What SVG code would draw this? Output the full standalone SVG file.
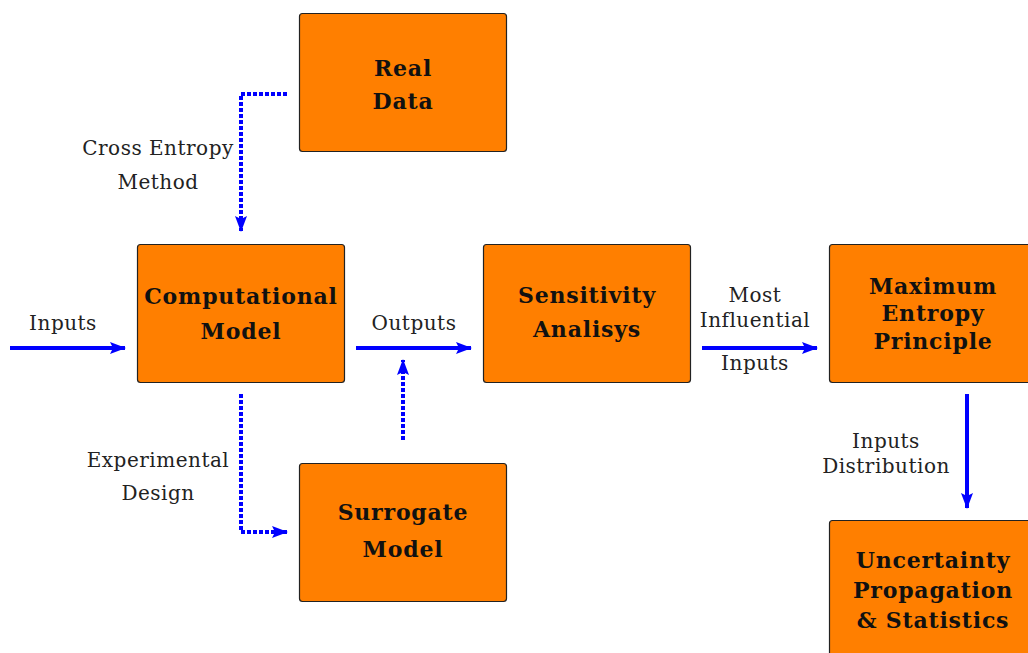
<svg xmlns="http://www.w3.org/2000/svg" width="1028" height="653" viewBox="0 0 1028 653">
<defs>
<marker id="ah" viewBox="0 0 16 12" refX="15" refY="6" markerWidth="16" markerHeight="12" markerUnits="userSpaceOnUse" orient="auto">
<path d="M0,0 L16,6 L0,12 L3,6 Z" fill="#0000ff"/>
</marker>
</defs>
<style>
.box{fill:#ff7f00;stroke:#222;stroke-width:1.2}
.bt{font-family:"DejaVu Serif",serif;font-weight:bold;font-size:22px;letter-spacing:0.8px;fill:#111;text-anchor:middle}
.lb{font-family:"DejaVu Serif",serif;font-size:20px;letter-spacing:0.5px;fill:#222;text-anchor:middle}
.ar{stroke:#0000ff;stroke-width:4;fill:none;marker-end:url(#ah)}
.da{stroke:#0000ff;stroke-width:4;fill:none;stroke-dasharray:4 2;marker-end:url(#ah)}
</style>
<rect width="1028" height="653" fill="#fff"/>
<g id="real">
<rect class="box" x="299.5" y="13.5" width="207" height="138" rx="3"/>
<text class="bt" x="403" y="76">Real</text>
<text class="bt" x="403" y="109">Data</text>
</g>
<g id="comp">
<rect class="box" x="137.5" y="244.5" width="207" height="138" rx="3"/>
<text class="bt" x="241" y="304">Computational</text>
<text class="bt" x="241" y="339">Model</text>
</g>
<g id="sens">
<rect class="box" x="483.5" y="244.5" width="207" height="138" rx="3"/>
<text class="bt" x="587" y="303">Sensitivity</text>
<text class="bt" x="587" y="337">Analisys</text>
</g>
<g id="maxent">
<rect class="box" x="829.5" y="244.5" width="207" height="138" rx="3"/>
<text class="bt" x="933" y="294">Maximum</text>
<text class="bt" x="933" y="321">Entropy</text>
<text class="bt" x="933" y="349">Principle</text>
</g>
<g id="surr">
<rect class="box" x="299.5" y="463.5" width="207" height="138" rx="3"/>
<text class="bt" x="403" y="520">Surrogate</text>
<text class="bt" x="403" y="557">Model</text>
</g>
<g id="unc">
<rect class="box" x="829.5" y="520.5" width="207" height="138" rx="3"/>
<text class="bt" x="933" y="568">Uncertainty</text>
<text class="bt" x="933" y="598">Propagation</text>
<text class="bt" x="933" y="628">&amp; Statistics</text>
</g>
<g id="connectors">
<path class="ar" d="M10,348 H125"/>
<path class="ar" d="M356,348 H471"/>
<path class="ar" d="M702,348 H817"/>
<path class="ar" d="M967,394 V508"/>
<path class="da" d="M287,94 H241 V231"/>
<path class="da" d="M241,394 V532 H287"/>
<path class="da" d="M403,440 V360"/>
</g>
<g id="labels">
<text class="lb" x="158" y="155">Cross Entropy</text>
<text class="lb" x="158" y="189">Method</text>
<text class="lb" x="63" y="330">Inputs</text>
<text class="lb" x="414" y="330">Outputs</text>
<text class="lb" x="755" y="302">Most</text>
<text class="lb" x="755" y="327">Influential</text>
<text class="lb" x="755" y="370">Inputs</text>
<text class="lb" x="158" y="467">Experimental</text>
<text class="lb" x="158" y="500">Design</text>
<text class="lb" x="886" y="448">Inputs</text>
<text class="lb" x="886" y="473">Distribution</text>
</g>
</svg>
